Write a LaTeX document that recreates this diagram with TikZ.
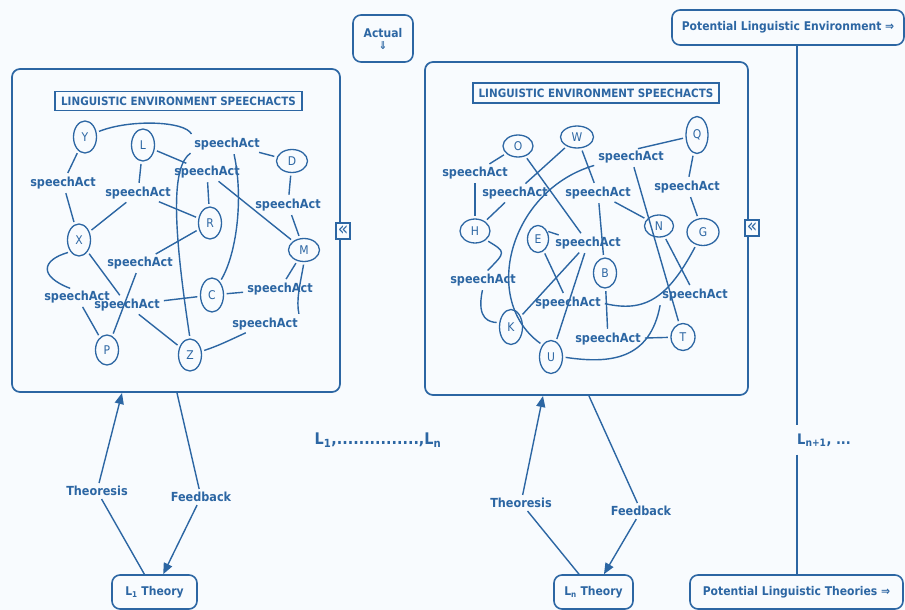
\documentclass[tikz,border=0pt]{standalone}
\usepackage{fontspec}
\setmainfont{DejaVu Sans}[FakeStretch=0.9]
\usetikzlibrary{shapes.geometric}
\usetikzlibrary{arrows.meta}
\usetikzlibrary{backgrounds}
\definecolor{Ink}{HTML}{2C66A3}
\definecolor{Paper}{HTML}{F8FBFE}
\tikzset{
  % every text of the picture in the same blue
  every node/.append style={text=Ink},
  % entities of the speech-act network
  ent/.style={ellipse,draw=Ink,line width=1.3pt,inner sep=0pt,
    minimum width=23pt,minimum height=32pt,font=\fontsize{12}{13}\selectfont},
  flat/.style={minimum width=31pt,minimum height=23pt},
  act/.style={inner sep=1.5pt,font=\fontsize{12.5}{13}\selectfont\bfseries},
  link/.style={draw=Ink,line width=1.4pt,shorten <=2.5pt,shorten >=2.5pt},
  % frames
  panel/.style={draw=Ink,line width=1.7pt,rounded corners=8pt,inner sep=0pt},
  headbox/.style={draw=Ink,line width=1.7pt,inner sep=0pt,
    font=\fontsize{11.5}{13}\selectfont\bfseries},
  tag/.style={draw=Ink,line width=1.6pt,rounded corners=8pt,inner sep=0pt,
    align=center,font=\fontsize{12}{14}\selectfont\bfseries},
  fold/.style={draw=Ink,line width=1.2pt,fill=Paper,inner sep=0pt,
    minimum width=14pt,minimum height=16pt,text height=9pt,text depth=0pt,
    font=\fontsize{19}{19}\selectfont},
  % theoresis / feedback loop
  flow/.style={draw=Ink,line width=1.4pt,-{Triangle[length=11pt,width=9pt]}},
  loop/.style={draw=Ink,line width=1.4pt},
  cue/.style={inner sep=3pt,font=\fontsize{12.5}{13}\selectfont\bfseries},
}

\begin{document}
\begin{tikzpicture}[x=1pt,y=-1pt]
\useasboundingbox (0,0) rectangle (905,610);
\begin{scope}[on background layer]
  \fill[Paper] (0,0) rectangle (905,610);
\end{scope}

% frames and headings
\node[panel,minimum width=328pt,minimum height=323pt] (envL) at (176,230.5) {};
\node[panel,minimum width=323pt,minimum height=333pt] (envR) at (586.5,228.5) {};
\node[headbox,minimum width=247pt,minimum height=19pt] (headL) at (178.5,101) {LINGUISTIC ENVIRONMENT SPEECHACTS};
\node[headbox,minimum width=246pt,minimum height=20pt] (headR) at (596,93) {LINGUISTIC ENVIRONMENT SPEECHACTS};
\node[fold] (foldL) at (343,231) {«};
\node[fold] (foldR) at (752,228) {«};

\node[tag,minimum width=60pt,minimum height=47pt] (actual) at (383,38.5) {Actual\\[-2pt]{\fontsize{11}{11}\selectfont ⇓}};
\node[tag,minimum width=232pt,minimum height=35pt] (potenv) at (788,27.5) {Potential Linguistic Environment ⇒};
\node[tag,minimum width=85pt,minimum height=34pt] (lth1) at (154.5,592) {L\textsubscript{1} Theory};
\node[tag,minimum width=79pt,minimum height=34pt] (lthn) at (593.5,592) {L\textsubscript{n} Theory};
\node[tag,minimum width=213pt,minimum height=34pt] (potth) at (796.5,592) {Potential Linguistic Theories ⇒};

\node[font=\fontsize{16}{17}\selectfont\bfseries] (span) at (378,440) {L\textsubscript{1},...............,L\textsubscript{n}};
\node[anchor=west,inner xsep=0pt,inner ysep=8pt,font=\fontsize{14.5}{16}\selectfont\bfseries] (more) at (797,440) {L\textsubscript{n+1}, ...};
\draw[loop] (potenv.south -| more.west) -- (more.north west);
\draw[loop] (more.south west) -- (potth.north -| more.west);

% left network
\node[ent] (Y) at (85,137) {Y};
\node[ent] (L) at (143,145) {L};
\node[ent,flat] (D) at (292,161) {D};
\node[ent] (R) at (210,223) {R};
\node[ent] (X) at (79,240) {X};
\node[ent,flat] (M) at (304,250) {M};
\node[ent,minimum height=34pt] (C) at (212,295) {C};
\node[ent,minimum height=30pt] (P) at (107,350) {P};
\node[ent] (Z) at (190,355) {Z};
\node[act] (la1) at (227,144) {speechAct};
\node[act] (la2) at (207,172) {speechAct};
\node[act] (la3) at (63,183) {speechAct};
\node[act] (la4) at (138,193) {speechAct};
\node[act] (la5) at (288,205) {speechAct};
\node[act] (la6) at (140,263) {speechAct};
\node[act] (la7) at (280,289) {speechAct};
\node[act] (la8) at (77,297) {speechAct};
\node[act] (la9) at (127,305) {speechAct};
\node[act] (la10) at (265,324) {speechAct};

% right network
\node[ent,minimum width=30pt,minimum height=22pt] (O) at (518,146) {O};
\node[ent,minimum width=33pt,minimum height=22pt] (W) at (577,137) {W};
\node[ent,minimum width=22pt,minimum height=37pt] (Q) at (697,135) {Q};
\node[ent,minimum width=30pt,minimum height=24pt] (H) at (475,231) {H};
\node[ent,minimum width=21pt,minimum height=27pt] (E) at (538,239) {E};
\node[ent,minimum width=29pt,minimum height=22pt] (N) at (659,226) {N};
\node[ent,minimum width=32pt,minimum height=27pt] (G) at (703,232) {G};
\node[ent,minimum height=30pt] (B) at (605,273) {B};
\node[ent,minimum height=35pt] (K) at (511,327) {K};
\node[ent,minimum width=24pt,minimum height=27pt] (T) at (683,337) {T};
\node[ent,minimum height=33pt] (U) at (551,357) {U};
\node[act] (ra1) at (475,173) {speechAct};
\node[act] (ra2) at (515,193) {speechAct};
\node[act] (ra3) at (631,157) {speechAct};
\node[act] (ra4) at (598,193) {speechAct};
\node[act] (ra5) at (687,187) {speechAct};
\node[act] (ra6) at (588,243) {speechAct};
\node[act] (ra7) at (483,280) {speechAct};
\node[act] (ra8) at (568,303) {speechAct};
\node[act] (ra9) at (695,295) {speechAct};
\node[act] (ra10) at (608,339) {speechAct};

\begin{scope}[on background layer]
  \path (Y) edge[link] (la3) (la3) edge[link] (X)
        (L) edge[link] (la4) (la4) edge[link] (X) (la4) edge[link] (R)
        (L) edge[link] (la2) (la2) edge[link] (R) (la2) edge[link] (M)
        (la1) edge[link] (D) (D) edge[link] (la5) (la5) edge[link] (M)
        (la8) edge[link] (P) (X) edge[link] (la9)
        (la9) edge[link] (C) (la9) edge[link] (Z)
        (R) edge[link] (la6) (la6) edge[link] (P)
        (C) edge[link] (la7) (la7) edge[link] (M);
  \draw[link] (Y) .. controls (130,119) and (185,121) .. (la1.north west);
  \draw[link] (la1.310) .. controls (244,200) and (236,255) .. (C);
  \draw[link] (la1.south west) .. controls (172,166) and (172,220) .. (Z.north);
  \draw[link] (X.south west) .. controls (42,260) and (38,276) .. (la8.120);
  \draw[link] (M.south) .. controls (300,285) and (296,300) .. (la10.north east);
  \draw[link] (la10) .. controls (230,340) and (218,346) .. (Z);

  \path (O) edge[link] (ra1) (ra1) edge[link] (H)
        (W) edge[link] (ra2) (ra2) edge[link] (H)
        (O) edge[link] (ra6) (ra6) edge[link] (K) (ra6) edge[link] (U)
        (E) edge[link] (ra8)
        (W) edge[link] (ra4) (ra4) edge[link] (B) (ra4) edge[link] (N)
        (ra3.60) edge[link] (Q) (ra3) edge[link] (T)
        (Q) edge[link] (ra5) (ra5) edge[link] (G)
        (B) edge[link] (ra10) (ra10) edge[link] (T)
        (N) edge[link] (ra9);
  \draw[link,shorten <=1pt,shorten >=1pt] (E.40) -- ([xshift=6pt]ra6.north west);
  \draw[link] (ra8.east) .. controls (645,313) and (668,298) .. (G);
  \draw[link] (ra3.south west) .. controls (510,190) and (480,300) .. (U.north west);
  \draw[link] (H.south east) .. controls (506,252) .. (ra7.70);
  \draw[link] (ra7.south) .. controls (476,320) and (490,322) .. (K.160);
  \draw[link] (ra9.south west) .. controls (650,360) and (610,364) .. (U.east);
\end{scope}

% theoresis and feedback
\node[cue] (theoL) at (97,491) {Theoresis};
\node[cue] (feedL) at (201,497) {Feedback};
\node[cue] (theoR) at (521,503) {Theoresis};
\node[cue] (feedR) at (641,511) {Feedback};
\coordinate (upL) at (122,393);
\coordinate (downL) at (177,393);
\coordinate (upR) at (543,396);
\coordinate (downR) at (589,396);
\draw[loop] (lth1) -- (theoL);
\draw[flow] (theoL) -- (upL);
\draw[loop] (downL) -- (feedL);
\draw[flow] (feedL) -- (lth1);
\draw[loop] (lthn) -- (theoR);
\draw[flow] (theoR) -- (upR);
\draw[loop] (downR) -- (feedR);
\draw[flow] (feedR) -- (lthn);
\end{tikzpicture}
\end{document}
